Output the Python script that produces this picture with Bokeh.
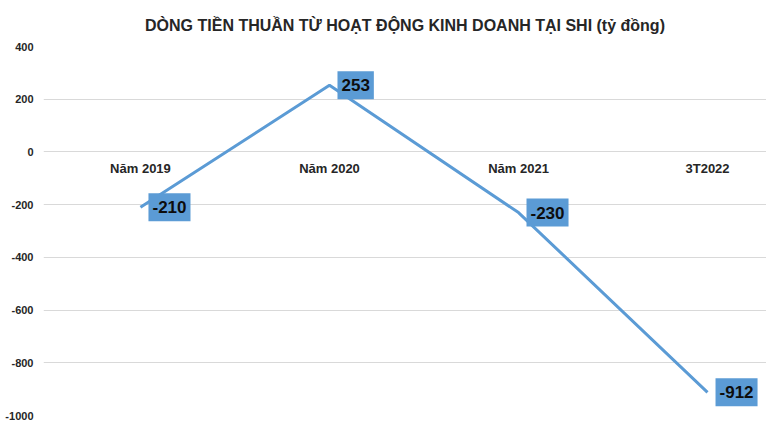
from bokeh.plotting import figure
from bokeh.models import Range1d, FixedTicker, ColumnDataSource
from bokeh.core.properties import value
from bokeh.embed import file_html
from bokeh.resources import INLINE

title = "DÒNG TIỀN THUẦN TỪ HOẠT ĐỘNG KINH DOANH TẠI SHI (tỷ đồng)"
categories = ["Năm 2019", "Năm 2020", "Năm 2021", "3T2022"]
values = [-210, 253, -230, -912]
y_ticks = [-1000, -800, -600, -400, -200, 0, 200, 400]

xs = list(range(len(categories)))
src = ColumnDataSource(dict(x=xs, y=values, lab=[str(v) for v in values],
                            cat=categories, zero=[0] * len(categories)))

FONT = "Liberation Sans"
BLUE = "#5B9BD5"

p = figure(width=766, height=420, output_backend="svg", toolbar_location=None,
           x_range=Range1d(-0.513, 3.312), y_range=Range1d(-1000, 400),
           min_border_left=43, min_border_right=0, min_border_top=46, min_border_bottom=5)
p.outline_line_color = None
p.background_fill_color = "white"
p.border_fill_color = "white"

p.title.text = title
p.title.align = "center"
p.title.text_font = FONT
p.title.text_font_size = "16px"
p.title.text_font_style = "bold"
p.title.text_color = "#262626"
p.title.text_line_height = 0.8
p.title.standoff = 26

p.xaxis.visible = False
p.xgrid.visible = False

yax = p.yaxis[0]
yax.ticker = FixedTicker(ticks=y_ticks)
yax.major_label_overrides = {t: str(t) for t in y_ticks}
yax.axis_line_color = None
yax.major_tick_line_color = None
yax.minor_tick_line_color = None
yax.major_tick_in = 0
yax.major_tick_out = 0
yax.major_label_standoff = 10
yax.major_label_text_font = FONT
yax.major_label_text_font_size = "11px"
yax.major_label_text_font_style = "bold"
yax.major_label_text_color = "#262626"
p.ygrid.ticker = FixedTicker(ticks=y_ticks)
p.ygrid.grid_line_color = "#D9D9D9"
p.ygrid.grid_line_width = 1

# category labels just below the zero line
p.text(x="x", y="zero", text="cat", source=src, text_align="center", text_baseline="middle",
       y_offset=17, text_font=value(FONT), text_font_size="13px", text_font_style="bold",
       text_color="#262626")

p.line(x="x", y="y", source=src, line_color=BLUE, line_width=3)

p.text(x="x", y="y", text="lab", source=src, text_align="left", text_baseline="middle",
       x_offset=8, text_font=value(FONT), text_font_size="17px", text_font_style="bold",
       text_color="#0D0D0D", background_fill_color=BLUE, padding=dict(x=4, y=8))

open("out.html", "w").write(file_html(p, INLINE))
